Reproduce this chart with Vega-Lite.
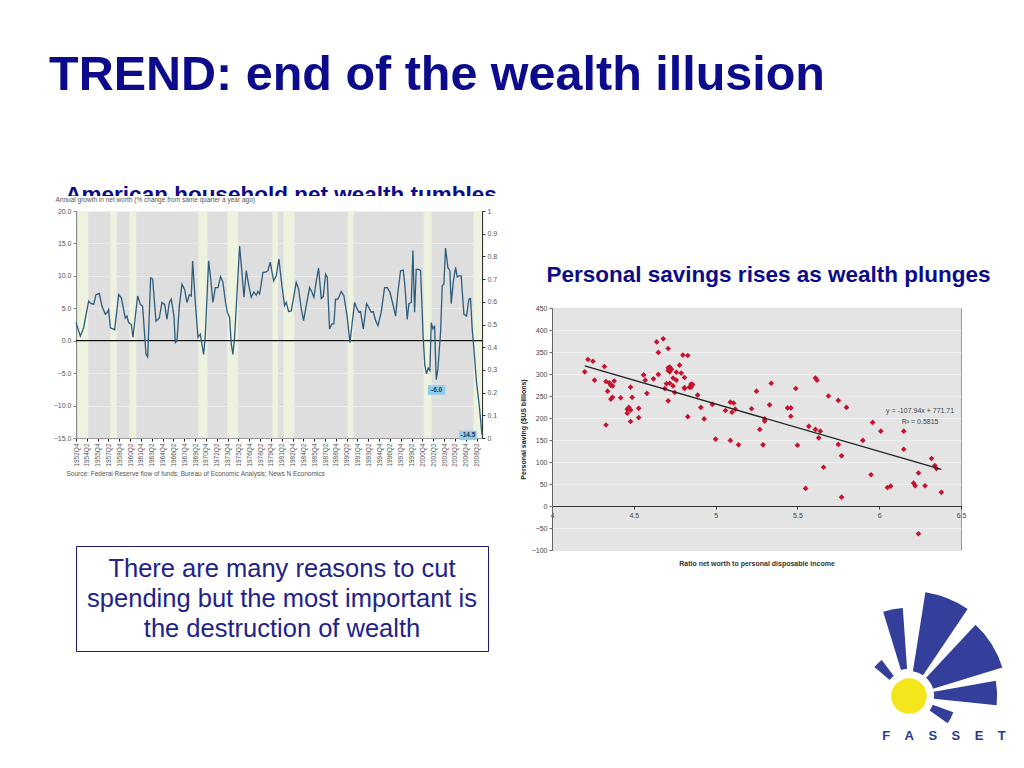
{
  "$schema": "https://vega.github.io/schema/vega-lite/v6.json",
  "background": "white",
  "padding": {"left": 31, "top": 51, "right": 0, "bottom": 0},
  "config": {"font": "Liberation Sans", "view": {"stroke": null}, "axis": {"labelOverlap": false}},
  "title": {"text": "TREND: end of the wealth illusion", "anchor": "start", "fontSize": 48.5, "fontWeight": "bold", "color": "#0b0b8c", "offset": 84.5, "dx": 18},
  "datasets": {
    "growth": [
      {"t": 1952.75, "v": 2.8}, {"t": 1953.35, "v": 0.7}, {"t": 1953.81, "v": 2.0}, {"t": 1954.5, "v": 6.1}, {"t": 1954.74, "v": 5.8},
      {"t": 1955.2, "v": 5.6}, {"t": 1955.52, "v": 7.1}, {"t": 1955.98, "v": 7.3}, {"t": 1956.35, "v": 5.3}, {"t": 1956.81, "v": 4.1},
      {"t": 1957.04, "v": 4.3}, {"t": 1957.27, "v": 4.8}, {"t": 1957.51, "v": 2.0}, {"t": 1958.11, "v": 1.7}, {"t": 1958.66, "v": 7.1},
      {"t": 1959.03, "v": 6.6}, {"t": 1959.58, "v": 3.5}, {"t": 1959.81, "v": 3.8}, {"t": 1960.04, "v": 2.8}, {"t": 1960.41, "v": 2.5},
      {"t": 1960.64, "v": 0.5}, {"t": 1961.29, "v": 6.9}, {"t": 1961.66, "v": 5.6}, {"t": 1961.98, "v": 5.3}, {"t": 1962.45, "v": -2.1},
      {"t": 1962.68, "v": -2.5}, {"t": 1963.09, "v": 9.7}, {"t": 1963.37, "v": 9.5}, {"t": 1963.83, "v": 3.0}, {"t": 1964.29, "v": 3.5},
      {"t": 1964.66, "v": 5.9}, {"t": 1965.03, "v": 5.6}, {"t": 1965.35, "v": 3.3}, {"t": 1965.68, "v": 5.9}, {"t": 1965.95, "v": 6.4},
      {"t": 1966.32, "v": 3.8}, {"t": 1966.51, "v": -0.3}, {"t": 1966.74, "v": 0.0}, {"t": 1967.06, "v": 5.3}, {"t": 1967.43, "v": 8.7},
      {"t": 1967.8, "v": 7.9}, {"t": 1968.12, "v": 5.9}, {"t": 1968.45, "v": 7.1}, {"t": 1968.72, "v": 6.9}, {"t": 1968.91, "v": 12.3},
      {"t": 1969.28, "v": 5.9}, {"t": 1969.65, "v": 0.5}, {"t": 1969.97, "v": 1.0}, {"t": 1970.43, "v": -2.1}, {"t": 1970.66, "v": 0.7},
      {"t": 1971.12, "v": 12.3}, {"t": 1971.4, "v": 9.7}, {"t": 1971.72, "v": 5.9}, {"t": 1972.05, "v": 8.2}, {"t": 1972.42, "v": 8.2},
      {"t": 1972.78, "v": 9.9}, {"t": 1973.11, "v": 9.0}, {"t": 1973.43, "v": 6.2}, {"t": 1973.71, "v": 4.4}, {"t": 1974.03, "v": 3.6},
      {"t": 1974.26, "v": -0.5}, {"t": 1974.49, "v": -2.1}, {"t": 1974.72, "v": 0.5}, {"t": 1975.09, "v": 8.0}, {"t": 1975.42, "v": 14.6},
      {"t": 1975.74, "v": 10.5}, {"t": 1976.02, "v": 6.7}, {"t": 1976.34, "v": 10.8}, {"t": 1976.66, "v": 8.7}, {"t": 1977.03, "v": 6.7},
      {"t": 1977.4, "v": 7.5}, {"t": 1977.72, "v": 7.0}, {"t": 1977.96, "v": 7.6}, {"t": 1978.19, "v": 7.2}, {"t": 1978.65, "v": 10.5},
      {"t": 1979.11, "v": 10.6}, {"t": 1979.34, "v": 10.8}, {"t": 1979.66, "v": 12.1}, {"t": 1980.13, "v": 9.2}, {"t": 1980.49, "v": 10.0},
      {"t": 1980.86, "v": 12.6}, {"t": 1981.28, "v": 8.5}, {"t": 1981.65, "v": 5.4}, {"t": 1981.88, "v": 5.9}, {"t": 1982.2, "v": 4.5},
      {"t": 1982.57, "v": 4.6}, {"t": 1982.94, "v": 6.9}, {"t": 1983.26, "v": 9.0}, {"t": 1983.59, "v": 8.0}, {"t": 1983.96, "v": 4.9},
      {"t": 1984.28, "v": 3.1}, {"t": 1984.65, "v": 5.4}, {"t": 1985.11, "v": 8.2}, {"t": 1985.43, "v": 7.5}, {"t": 1985.71, "v": 6.7},
      {"t": 1986.03, "v": 9.2}, {"t": 1986.36, "v": 11.2}, {"t": 1986.73, "v": 6.5}, {"t": 1987.0, "v": 6.8}, {"t": 1987.33, "v": 10.3},
      {"t": 1987.56, "v": 9.8}, {"t": 1987.88, "v": 1.8}, {"t": 1988.2, "v": 2.6}, {"t": 1988.48, "v": 2.6}, {"t": 1988.71, "v": 6.4},
      {"t": 1989.04, "v": 6.4}, {"t": 1989.5, "v": 7.6}, {"t": 1989.87, "v": 6.9}, {"t": 1990.33, "v": 3.6}, {"t": 1990.7, "v": -0.3},
      {"t": 1991.02, "v": 2.8}, {"t": 1991.35, "v": 5.9}, {"t": 1991.62, "v": 5.1}, {"t": 1991.95, "v": 4.4}, {"t": 1992.18, "v": 4.5},
      {"t": 1992.55, "v": 1.8}, {"t": 1993.01, "v": 5.7}, {"t": 1993.33, "v": 5.1}, {"t": 1993.66, "v": 4.4}, {"t": 1993.93, "v": 4.5},
      {"t": 1994.26, "v": 3.1}, {"t": 1994.58, "v": 2.3}, {"t": 1995.04, "v": 4.4}, {"t": 1995.5, "v": 8.2}, {"t": 1995.87, "v": 8.2},
      {"t": 1996.24, "v": 7.5}, {"t": 1996.7, "v": 5.4}, {"t": 1997.03, "v": 3.8}, {"t": 1997.35, "v": 7.5}, {"t": 1997.72, "v": 10.8},
      {"t": 1998.09, "v": 10.9}, {"t": 1998.32, "v": 8.5}, {"t": 1998.64, "v": 3.3}, {"t": 1998.87, "v": 5.7}, {"t": 1999.2, "v": 5.9},
      {"t": 1999.43, "v": 13.9}, {"t": 1999.66, "v": 4.4}, {"t": 1999.89, "v": 11.0}, {"t": 2000.26, "v": 11.0}, {"t": 2000.49, "v": 10.8},
      {"t": 2000.86, "v": 0.3}, {"t": 2001.09, "v": -3.9}, {"t": 2001.32, "v": -5.1}, {"t": 2001.55, "v": -4.2}, {"t": 2001.78, "v": -4.6},
      {"t": 2001.97, "v": 2.8}, {"t": 2002.2, "v": 1.8}, {"t": 2002.43, "v": 2.3}, {"t": 2002.66, "v": -6.0}, {"t": 2002.89, "v": -4.4},
      {"t": 2003.26, "v": 1.3}, {"t": 2003.49, "v": 8.5}, {"t": 2003.72, "v": 8.7}, {"t": 2003.95, "v": 14.3}, {"t": 2004.27, "v": 11.3},
      {"t": 2004.55, "v": 10.8}, {"t": 2004.74, "v": 5.7}, {"t": 2005.01, "v": 9.0}, {"t": 2005.34, "v": 11.3}, {"t": 2005.57, "v": 9.8},
      {"t": 2005.8, "v": 10.0}, {"t": 2006.12, "v": 10.0}, {"t": 2006.49, "v": 4.1}, {"t": 2006.86, "v": 3.8}, {"t": 2007.18, "v": 6.4},
      {"t": 2007.41, "v": 6.5}, {"t": 2007.64, "v": 1.8}, {"t": 2007.88, "v": -1.3}, {"t": 2008.24, "v": -6.4}, {"t": 2008.6, "v": -9.8},
      {"t": 2009.0, "v": -14.5}
    ],
    "recessions": [
      {"start": 1953.0, "end": 1954.45, "flag": 1}, {"start": 1957.5, "end": 1958.4, "flag": 1},
      {"start": 1960.15, "end": 1961.1, "flag": 1}, {"start": 1969.7, "end": 1970.95, "flag": 1},
      {"start": 1973.7, "end": 1975.2, "flag": 1}, {"start": 1979.95, "end": 1980.75, "flag": 1},
      {"start": 1981.5, "end": 1983.0, "flag": 1}, {"start": 1990.4, "end": 1991.2, "flag": 1},
      {"start": 2000.9, "end": 2002.0, "flag": 1}, {"start": 2007.85, "end": 2009.0, "flag": 1}
    ],
    "callouts": [
      {"t": 2002.71, "v": -7.6, "label": "-6.0"},
      {"t": 2007.05, "v": -14.6, "label": "-14.5"}
    ],
    "savings": [
      {"ratio": 4.20, "saving": 305}, {"ratio": 4.22, "saving": 333}, {"ratio": 4.25, "saving": 329}, {"ratio": 4.26, "saving": 286},
      {"ratio": 4.32, "saving": 317}, {"ratio": 4.33, "saving": 283}, {"ratio": 4.34, "saving": 261}, {"ratio": 4.33, "saving": 184},
      {"ratio": 4.35, "saving": 280}, {"ratio": 4.36, "saving": 274}, {"ratio": 4.36, "saving": 243}, {"ratio": 4.37, "saving": 247},
      {"ratio": 4.38, "saving": 284}, {"ratio": 4.37, "saving": 273}, {"ratio": 4.42, "saving": 246}, {"ratio": 4.46, "saving": 220},
      {"ratio": 4.46, "saving": 211}, {"ratio": 4.47, "saving": 224}, {"ratio": 4.48, "saving": 218}, {"ratio": 4.48, "saving": 270},
      {"ratio": 4.49, "saving": 247}, {"ratio": 4.48, "saving": 192}, {"ratio": 4.53, "saving": 222}, {"ratio": 4.53, "saving": 201},
      {"ratio": 4.56, "saving": 298}, {"ratio": 4.57, "saving": 286}, {"ratio": 4.58, "saving": 256}, {"ratio": 4.62, "saving": 289},
      {"ratio": 4.64, "saving": 373}, {"ratio": 4.65, "saving": 349}, {"ratio": 4.65, "saving": 299}, {"ratio": 4.68, "saving": 380},
      {"ratio": 4.69, "saving": 267}, {"ratio": 4.70, "saving": 278}, {"ratio": 4.71, "saving": 358}, {"ratio": 4.71, "saving": 314},
      {"ratio": 4.71, "saving": 239}, {"ratio": 4.71, "saving": 308}, {"ratio": 4.72, "saving": 316}, {"ratio": 4.72, "saving": 305},
      {"ratio": 4.72, "saving": 279}, {"ratio": 4.73, "saving": 311}, {"ratio": 4.74, "saving": 273}, {"ratio": 4.74, "saving": 291},
      {"ratio": 4.75, "saving": 258}, {"ratio": 4.76, "saving": 304}, {"ratio": 4.76, "saving": 286}, {"ratio": 4.78, "saving": 320},
      {"ratio": 4.79, "saving": 302}, {"ratio": 4.80, "saving": 343}, {"ratio": 4.81, "saving": 267}, {"ratio": 4.81, "saving": 292},
      {"ratio": 4.81, "saving": 269}, {"ratio": 4.83, "saving": 342}, {"ratio": 4.83, "saving": 203}, {"ratio": 4.84, "saving": 270},
      {"ratio": 4.85, "saving": 277}, {"ratio": 4.85, "saving": 270}, {"ratio": 4.86, "saving": 276}, {"ratio": 4.89, "saving": 252},
      {"ratio": 4.91, "saving": 224}, {"ratio": 4.93, "saving": 198}, {"ratio": 4.98, "saving": 231}, {"ratio": 5.00, "saving": 152},
      {"ratio": 5.06, "saving": 217}, {"ratio": 5.09, "saving": 149}, {"ratio": 5.09, "saving": 236}, {"ratio": 5.10, "saving": 213},
      {"ratio": 5.11, "saving": 234}, {"ratio": 5.12, "saving": 220}, {"ratio": 5.14, "saving": 139}, {"ratio": 5.22, "saving": 221},
      {"ratio": 5.25, "saving": 261}, {"ratio": 5.27, "saving": 174}, {"ratio": 5.29, "saving": 139}, {"ratio": 5.30, "saving": 193},
      {"ratio": 5.30, "saving": 198}, {"ratio": 5.34, "saving": 279}, {"ratio": 5.33, "saving": 230}, {"ratio": 5.44, "saving": 223},
      {"ratio": 5.46, "saving": 223}, {"ratio": 5.46, "saving": 204}, {"ratio": 5.49, "saving": 267}, {"ratio": 5.50, "saving": 138},
      {"ratio": 5.55, "saving": 40}, {"ratio": 5.57, "saving": 181}, {"ratio": 5.61, "saving": 291}, {"ratio": 5.62, "saving": 286},
      {"ratio": 5.61, "saving": 174}, {"ratio": 5.63, "saving": 155}, {"ratio": 5.64, "saving": 170}, {"ratio": 5.66, "saving": 88},
      {"ratio": 5.69, "saving": 250}, {"ratio": 5.75, "saving": 240}, {"ratio": 5.75, "saving": 140}, {"ratio": 5.77, "saving": 114},
      {"ratio": 5.77, "saving": 20}, {"ratio": 5.80, "saving": 224}, {"ratio": 5.90, "saving": 149}, {"ratio": 5.95, "saving": 71},
      {"ratio": 5.96, "saving": 190}, {"ratio": 6.01, "saving": 170}, {"ratio": 6.05, "saving": 42}, {"ratio": 6.07, "saving": 45},
      {"ratio": 6.15, "saving": 170}, {"ratio": 6.15, "saving": 129}, {"ratio": 6.21, "saving": 52}, {"ratio": 6.22, "saving": 46},
      {"ratio": 6.24, "saving": 75}, {"ratio": 6.24, "saving": -63}, {"ratio": 6.28, "saving": 46}, {"ratio": 6.32, "saving": 108},
      {"ratio": 6.34, "saving": 92}, {"ratio": 6.35, "saving": 85}, {"ratio": 6.38, "saving": 31}
    ],
    "trend": [
      {"ratio": 4.2, "saving": 318.4},
      {"ratio": 6.38, "saving": 83.0}
    ],
    "equation": [
      {"ratio": 6.25, "saving": 216, "label": "y = -107.94x + 771.71"},
      {"ratio": 6.25, "saving": 191, "label": "R² = 0.5815"}
    ],
    "rays": [
      {"a0": -50, "a1": -37, "r0": 0.24, "r1": 0.43},
      {"a0": -17, "a1": -4, "r0": 0.26, "r1": 0.84},
      {"a0": 9, "a1": 34, "r0": 0.24, "r1": 1.0},
      {"a0": 43, "a1": 73, "r0": 0.24, "r1": 0.93},
      {"a0": 80, "a1": 96, "r0": 0.24, "r1": 0.84},
      {"a0": 110, "a1": 125, "r0": 0.24, "r1": 0.45}
    ]
  },
  "vconcat": [
    {
      "width": 500,
      "height": 11,
      "data": {"values": [{"t": "American household net wealth tumbles"}]},
      "mark": {"type": "text", "clip": true, "fontSize": 22.5, "fontWeight": "bold", "color": "#0b0b8c", "baseline": "alphabetic", "align": "center", "dy": 11},
      "encoding": {"text": {"field": "t"}}
    },
    {
      "hconcat": [
        {
          "width": 1,
          "height": 1,
          "data": {"values": []},
          "mark": {"type": "text"},
          "encoding": {}
        },
        {
          "vconcat": [
            {
              "width": 406,
              "height": 227,
              "view": {"fill": "#dedede", "stroke": null},
              "layer": [
                {
                  "data": {"name": "recessions"},
                  "mark": {"type": "rect", "color": "#eef3e0"},
                  "encoding": {
                    "x": {"field": "start", "type": "quantitative", "title": "Source: Federal Reserve flow of funds; Bureau of Economic Analysis; News N Economics",
                      "scale": {"domain": [1952.75, 2009.0], "nice": false, "zero": false},
                      "axis": {
                        "values": [1952.75, 1954.25, 1955.75, 1957.25, 1958.75, 1960.25, 1961.75, 1963.25, 1964.75, 1966.25, 1967.75, 1969.25, 1970.75, 1972.25, 1973.75, 1975.25, 1976.75, 1978.25, 1979.75, 1981.25, 1982.75, 1984.25, 1985.75, 1987.25, 1988.75, 1990.25, 1991.75, 1993.25, 1994.75, 1996.25, 1997.75, 1999.25, 2000.75, 2002.25, 2003.75, 2005.25, 2006.75, 2008.25],
                        "tickCount": 100,
                        "labelExpr": "floor(datum.value) + 'Q' + (round((datum.value - floor(datum.value)) * 4) + 1)",
                        "labelAngle": 270, "labelAlign": "right", "labelBaseline": "middle", "labelFontSize": 6.5, "labelColor": "#555",
                        "labelOverlap": false, "labelFlush": false, "labelPadding": 2,
                        "tickColor": "#222", "tickSize": 3, "domainColor": "#999", "grid": false,
                        "titleFontSize": 6.5, "titleFontWeight": "normal", "titleColor": "#555", "titleAlign": "left", "titleX": -10, "titlePadding": 4
                      }
                    },
                    "x2": {"field": "end"},
                    "y": {"field": "flag", "type": "quantitative", "title": null,
                      "scale": {"domain": [0, 1], "nice": false},
                      "axis": {"orient": "right", "values": [0, 0.1, 0.2, 0.3, 0.4, 0.5, 0.6, 0.7, 0.8, 0.9, 1], "tickCount": 100, "format": ".1~f",
                        "labelFontSize": 7, "labelColor": "#555", "domainColor": "#333", "domainWidth": 1.2, "tickColor": "#333", "tickSize": 3, "grid": false}
                    },
                    "y2": {"datum": 0}
                  }
                },
                {
                  "layer": [
                    {
                      "data": {"values": [{}]},
                      "mark": {"type": "rule", "color": "#111", "strokeWidth": 1.2},
                      "encoding": {"y": {"datum": 0, "type": "quantitative", "scale": {"domain": [-15, 20], "nice": false}}}
                    },
                    {
                      "data": {"name": "growth"},
                      "mark": {"type": "line", "color": "#2d5c7c", "strokeWidth": 1.3},
                      "encoding": {
                        "x": {"field": "t", "type": "quantitative", "title": "Source: Federal Reserve flow of funds; Bureau of Economic Analysis; News N Economics", "scale": {"domain": [1952.75, 2009.0], "nice": false, "zero": false}},
                        "y": {"field": "v", "type": "quantitative", "title": "Annual growth in net worth (% change from same quarter a year ago)",
                          "scale": {"domain": [-15, 20], "nice": false},
                          "axis": {"values": [-15, -10, -5, 0, 5, 10, 15, 20], "tickCount": 100, "format": ".1f", "labelFontSize": 7, "labelColor": "#555", "labelOverlap": false,
                            "domainColor": "#888", "tickColor": "#888", "tickSize": 3, "grid": true, "gridColor": "#f3f3f3", "gridWidth": 0.7,
                            "titleAngle": 0, "titleAlign": "left", "titleBaseline": "alphabetic", "titleX": -21, "titleY": -10,
                            "titleFontSize": 6.5, "titleFontWeight": "normal", "titleColor": "#555"}
                        }
                      }
                    },
                    {
                      "data": {"name": "callouts"},
                      "mark": {"type": "point", "shape": "M-1,-0.55L1,-0.55L1,0.55L-1,0.55Z", "filled": true, "color": "#8fcdec", "opacity": 1, "size": 300},
                      "encoding": {
                        "x": {"field": "t", "type": "quantitative", "title": "Source: Federal Reserve flow of funds; Bureau of Economic Analysis; News N Economics", "scale": {"domain": [1952.75, 2009.0], "nice": false, "zero": false}},
                        "y": {"field": "v", "type": "quantitative", "title": "Annual growth in net worth (% change from same quarter a year ago)", "scale": {"domain": [-15, 20], "nice": false}}
                      }
                    },
                    {
                      "data": {"name": "callouts"},
                      "mark": {"type": "text", "fontSize": 6.5, "fontWeight": "bold", "color": "#1d3a66"},
                      "encoding": {
                        "x": {"field": "t", "type": "quantitative", "title": "Source: Federal Reserve flow of funds; Bureau of Economic Analysis; News N Economics", "scale": {"domain": [1952.75, 2009.0], "nice": false, "zero": false}},
                        "y": {"field": "v", "type": "quantitative", "title": "Annual growth in net worth (% change from same quarter a year ago)", "scale": {"domain": [-15, 20], "nice": false}},
                        "text": {"field": "label"}
                      }
                    }
                  ]
                }
              ],
              "resolve": {"scale": {"y": "independent"}}
            },
            {
              "width": 412,
              "height": 105,
              "view": {"fill": "white", "stroke": "#1a1a6e", "strokeWidth": 1},
              "data": {"values": [
                {"n": 1, "line": "There are many reasons to cut"},
                {"n": 2, "line": "spending but the most important is"},
                {"n": 3, "line": "the destruction of wealth"}
              ]},
              "mark": {"type": "text", "fontSize": 25.5, "color": "#22228a", "baseline": "middle"},
              "encoding": {
                "y": {"field": "n", "type": "ordinal", "axis": null, "scale": {"padding": 0.75}},
                "text": {"field": "line"}
              }
            }
          ],
          "spacing": 68
        },
        {
          "vconcat": [
            {
              "width": 433,
              "height": 78,
              "data": {"values": [{"t": "Personal savings rises as wealth plunges"}]},
              "mark": {"type": "text", "fontSize": 22.5, "fontWeight": "bold", "color": "#0b0b8c", "baseline": "middle", "align": "center", "dy": 25},
              "encoding": {"text": {"field": "t"}}
            },
            {
              "width": 409,
              "height": 242,
              "view": {"fill": "#e4e4e4", "stroke": "#9a9a9a", "strokeWidth": 1},
              "layer": [
                {
                  "data": {"name": "savings"},
                  "mark": {"type": "point", "shape": "diamond", "filled": true, "color": "#c4122f", "opacity": 1, "size": 32},
                  "encoding": {
                    "x": {"field": "ratio", "type": "quantitative", "title": "Ratio net worth to personal disposable income",
                      "scale": {"domain": [4, 6.5], "nice": false, "zero": false},
                      "axis": {"values": [4, 4.5, 5, 5.5, 6, 6.5], "tickCount": 100, "format": "~g", "offset": -44, "labelFontSize": 7, "labelColor": "#444", "labelFlush": false,
                        "domainColor": "#333", "tickColor": "#333", "tickSize": 3, "grid": false,
                        "titleFontSize": 7, "titleFontWeight": "bold", "titleColor": "#333", "titlePadding": 41}
                    },
                    "y": {"field": "saving", "type": "quantitative", "title": "Personal saving ($US billions)",
                      "scale": {"domain": [-100, 450], "nice": false},
                      "axis": {"values": [-100, -50, 0, 50, 100, 150, 200, 250, 300, 350, 400, 450], "tickCount": 100, "labelFontSize": 7, "labelColor": "#444",
                        "domainColor": "#666", "tickColor": "#666", "tickSize": 3, "grid": true, "gridColor": "#f3f3f3", "gridWidth": 0.8,
                        "titleFontSize": 7, "titleFontWeight": "bold", "titleColor": "#222", "titlePadding": 5}
                    }
                  }
                },
                {
                  "data": {"name": "trend"},
                  "mark": {"type": "line", "color": "#222", "strokeWidth": 1.3},
                  "encoding": {
                    "x": {"field": "ratio", "type": "quantitative", "title": "Ratio net worth to personal disposable income", "scale": {"domain": [4, 6.5], "nice": false, "zero": false}},
                    "y": {"field": "saving", "type": "quantitative", "title": "Personal saving ($US billions)", "scale": {"domain": [-100, 450], "nice": false}}
                  }
                },
                {
                  "data": {"name": "equation"},
                  "mark": {"type": "text", "fontSize": 7, "color": "#444"},
                  "encoding": {
                    "x": {"field": "ratio", "type": "quantitative", "title": "Ratio net worth to personal disposable income", "scale": {"domain": [4, 6.5], "nice": false, "zero": false}},
                    "y": {"field": "saving", "type": "quantitative", "title": "Personal saving ($US billions)", "scale": {"domain": [-100, 450], "nice": false}},
                    "text": {"field": "label"}
                  }
                }
              ]
            },
            {
              "width": 449,
              "height": 168,
              "layer": [
                {
                  "data": {"name": "rays"},
                  "mark": {"type": "arc", "color": "#333f9a"},
                  "encoding": {
                    "x": {"datum": 0.795, "type": "quantitative", "scale": {"domain": [0, 1], "nice": false}, "axis": null},
                    "y": {"datum": 0.315, "type": "quantitative", "scale": {"domain": [0, 1], "nice": false}, "axis": null},
                    "theta": {"field": "a0", "type": "quantitative", "stack": null, "scale": {"domain": [0, 360], "range": [0, 6.283185307]}},
                    "theta2": {"field": "a1"},
                    "radius": {"field": "r1", "type": "quantitative", "scale": {"domain": [0, 1], "range": [0, 105], "zero": true}},
                    "radius2": {"field": "r0"}
                  }
                },
                {
                  "data": {"values": [{}]},
                  "mark": {"type": "point", "shape": "circle", "filled": true, "color": "#f5e61c", "opacity": 1, "size": 1260},
                  "encoding": {
                    "x": {"datum": 0.795, "type": "quantitative", "scale": {"domain": [0, 1], "nice": false}, "axis": null},
                    "y": {"datum": 0.315, "type": "quantitative", "scale": {"domain": [0, 1], "nice": false}, "axis": null}
                  }
                },
                {
                  "data": {"values": [{"t": "F\u00a0\u00a0\u00a0\u00a0A\u00a0\u00a0\u00a0\u00a0S\u00a0\u00a0\u00a0\u00a0S\u00a0\u00a0\u00a0\u00a0E\u00a0\u00a0\u00a0\u00a0T"}]},
                  "mark": {"type": "text", "fontSize": 13, "fontWeight": "bold", "color": "#2b3990", "align": "center", "baseline": "middle"},
                  "encoding": {
                    "x": {"datum": 0.873, "type": "quantitative", "scale": {"domain": [0, 1], "nice": false}, "axis": null},
                    "y": {"datum": 0.077, "type": "quantitative", "scale": {"domain": [0, 1], "nice": false}, "axis": null},
                    "text": {"field": "t"}
                  }
                }
              ]
            }
          ],
          "spacing": 14
        }
      ],
      "spacing": 21
    }
  ],
  "spacing": 0
}
